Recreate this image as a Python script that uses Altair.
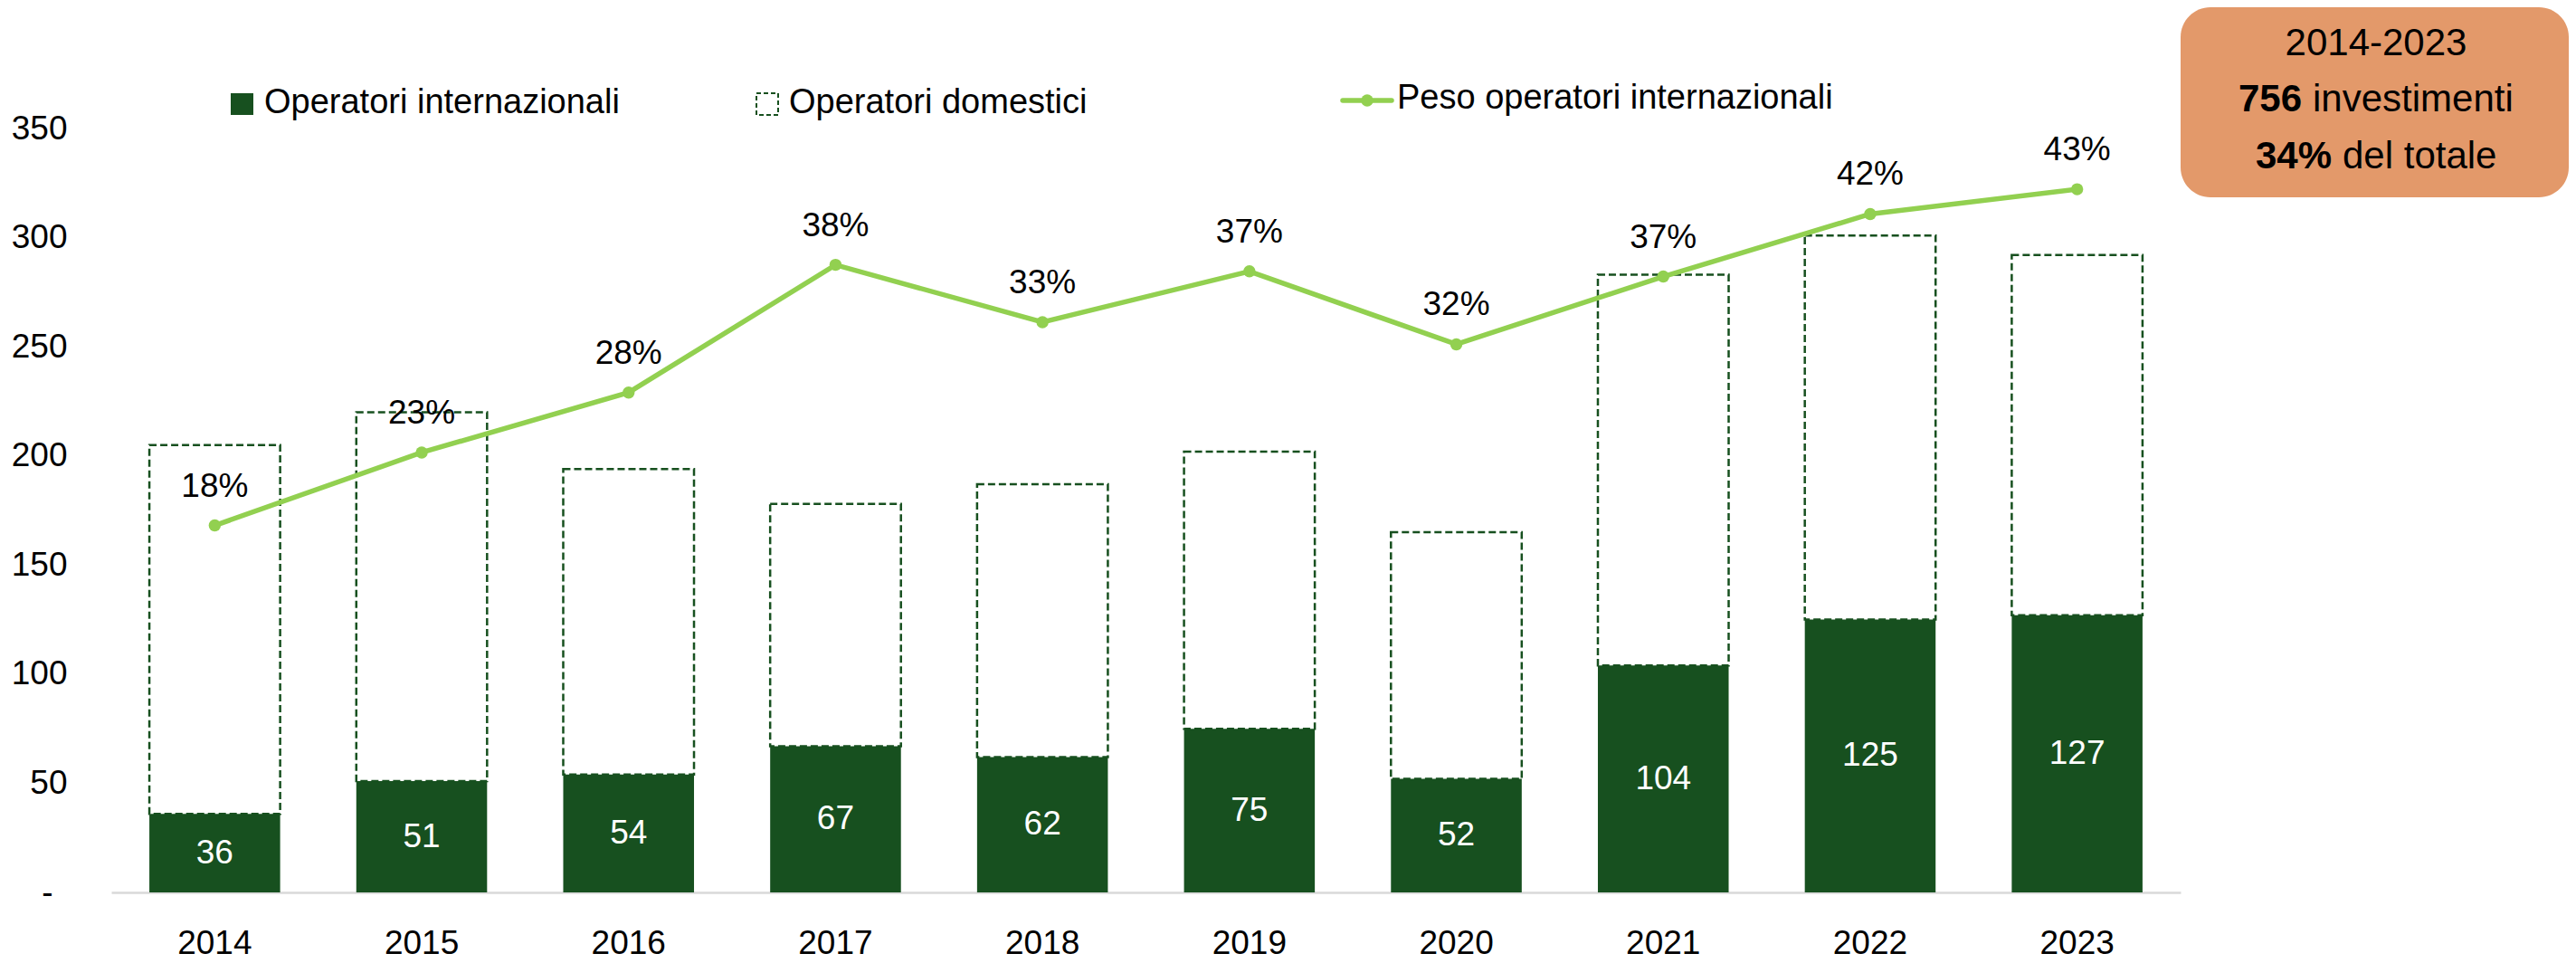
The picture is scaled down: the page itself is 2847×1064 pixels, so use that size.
import altair as alt
import pandas as pd

# ---- data ----
YEARS = ["2014", "2015", "2016", "2017", "2018", "2019", "2020", "2021", "2022", "2023"]
INTERNAZIONALI = [36, 51, 54, 67, 62, 75, 52, 104, 125, 127]
DOMESTICI = [169, 169, 140, 111, 125, 127, 113, 179, 176, 165]
PESO = [0.176, 0.232, 0.278, 0.376, 0.332, 0.371, 0.315, 0.367, 0.415, 0.434]
Y_TICKS = [0, 50, 100, 150, 200, 250, 300, 350]
LEGEND_LABELS = ["Operatori internazionali", "Operatori domestici", "Peso operatori internazionali"]
BOX_TITLE = "2014-2023"
BOX_NUM1 = "756"
BOX_TXT1 = "investimenti"
BOX_NUM2 = "34%"
BOX_TXT2 = "del totale"

FONT = "Liberation Sans"
DARK = "#17501F"
LIGHT = "#92D050"
BOX = "#E3996A"

df = pd.DataFrame({"anno": YEARS, "intl": INTERNAZIONALI, "dom": DOMESTICI, "peso": PESO})
one = pd.DataFrame({"k": [0]})

W, H = 2287, 844

x_enc = alt.X(
    "anno:N",
    sort=YEARS,
    scale=alt.Scale(paddingInner=0.368, paddingOuter=0.184),
    axis=alt.Axis(
        title=None, labelAngle=0, labelFont=FONT, labelFontSize=37, labelColor="black",
        labelPadding=38, domainColor="#D9D9D9", domainWidth=2.5, ticks=False, tickSize=0,
        grid=False,
    ),
)
yscale = alt.Scale(domain=[0, 350], nice=False, zero=True)
pscale = alt.Scale(domain=[-0.1056, 0.4806], nice=False, zero=False)

base = alt.Chart(df).transform_calculate(total="datum.intl + datum.dom", mid="datum.intl / 2")

bars_int = base.mark_bar(color=DARK).encode(
    x=x_enc,
    y=alt.Y(
        "intl:Q",
        scale=yscale,
        axis=alt.Axis(
            values=Y_TICKS, title=None, grid=False, domain=False, ticks=False, tickSize=0,
            labelFont=FONT, labelFontSize=37, labelColor="black",
            labelPadding={"condition": {"test": "datum.value === 0", "value": 65}, "value": 49},
            labelExpr="datum.value === 0 ? '-' : datum.label",
        ),
    ),
)

bars_dom = base.mark_bar(
    fill="white", fillOpacity=0, stroke=DARK, strokeWidth=2.5, strokeDash=[8, 4]
).encode(
    x=x_enc,
    y=alt.Y("total:Q", scale=yscale, axis=None),
    y2="intl:Q",
)

bar_labels = base.mark_text(
    font=FONT, fontSize=37, color="white", baseline="middle", align="center"
).encode(
    x=x_enc,
    y=alt.Y("mid:Q", scale=yscale, axis=None),
    text=alt.Text("intl:Q"),
)

line = base.mark_line(color=LIGHT, strokeWidth=5.5).encode(
    x=x_enc, y=alt.Y("peso:Q", scale=pscale, axis=None)
)
points = base.mark_point(filled=True, size=180, color=LIGHT, opacity=1).encode(
    x=x_enc, y=alt.Y("peso:Q", scale=pscale, axis=None)
)
pct_labels = base.mark_text(
    font=FONT, fontSize=37, color="black", baseline="alphabetic", align="center", dy=-32
).encode(
    x=x_enc, y=alt.Y("peso:Q", scale=pscale, axis=None),
    text=alt.Text("peso:Q", format=".0%"),
)

lb = alt.Chart(one)
# legend item 1
leg1_sym = lb.mark_rect(color=DARK).encode(
    x=alt.value(132), x2=alt.value(157), y=alt.value(-39), y2=alt.value(-15)
)
leg1_txt = lb.mark_text(font=FONT, fontSize=38, align="left", baseline="middle", color="black").encode(
    x=alt.value(169), y=alt.value(-28), text=alt.value(LEGEND_LABELS[0])
)
# legend item 2
leg2_sym = lb.mark_rect(fill="white", stroke=DARK, strokeWidth=2, strokeDash=[5, 3]).encode(
    x=alt.value(713), x2=alt.value(737), y=alt.value(-39), y2=alt.value(-15)
)
leg2_txt = lb.mark_text(font=FONT, fontSize=38, align="left", baseline="middle", color="black").encode(
    x=alt.value(749), y=alt.value(-28), text=alt.value(LEGEND_LABELS[1])
)
# legend item 3
leg3_line = lb.mark_rule(color=LIGHT, strokeWidth=5.5, strokeCap="round").encode(
    x=alt.value(1361), x2=alt.value(1415), y=alt.value(-31)
)
leg3_pt = lb.mark_point(filled=True, size=180, color=LIGHT, opacity=1).encode(
    x=alt.value(1388), y=alt.value(-31)
)
leg3_txt = lb.mark_text(font=FONT, fontSize=38, align="left", baseline="middle", color="black").encode(
    x=alt.value(1421), y=alt.value(-33), text=alt.value(LEGEND_LABELS[2])
)

# annotation box
box = lb.mark_rect(color=BOX, cornerRadius=33).encode(
    x=alt.value(2287), x2=alt.value(2716), y=alt.value(-134), y2=alt.value(76)
)
box_t1 = lb.mark_text(font=FONT, fontSize=42, align="center", baseline="middle", color="black").encode(
    x=alt.value(2503), y=alt.value(-94), text=alt.value(BOX_TITLE)
)
box_n1 = lb.mark_text(font=FONT, fontSize=42, fontWeight="bold", align="right", baseline="middle", color="black").encode(
    x=alt.value(2421), y=alt.value(-32), text=alt.value(BOX_NUM1)
)
box_w1 = lb.mark_text(font=FONT, fontSize=42, align="left", baseline="middle", color="black").encode(
    x=alt.value(2433), y=alt.value(-32), text=alt.value(BOX_TXT1)
)
box_n2 = lb.mark_text(font=FONT, fontSize=42, fontWeight="bold", align="right", baseline="middle", color="black").encode(
    x=alt.value(2454), y=alt.value(31), text=alt.value(BOX_NUM2)
)
box_w2 = lb.mark_text(font=FONT, fontSize=42, align="left", baseline="middle", color="black").encode(
    x=alt.value(2466), y=alt.value(31), text=alt.value(BOX_TXT2)
)

chart = alt.layer(
    bars_int, bars_dom, bar_labels, line, points, pct_labels,
    leg1_sym, leg1_txt, leg2_sym, leg2_txt, leg3_line, leg3_pt, leg3_txt,
    box, box_t1, box_n1, box_w1, box_n2, box_w2,
).resolve_scale(y="independent").properties(
    width=W, height=H,
    autosize=alt.AutoSizeParams(type="none"),
    padding={"left": 115, "top": 134, "right": 429, "bottom": 76},
    background="white",
).configure_view(stroke=None)

chart.save("out.html", embed_options={"renderer": "svg", "actions": False})
